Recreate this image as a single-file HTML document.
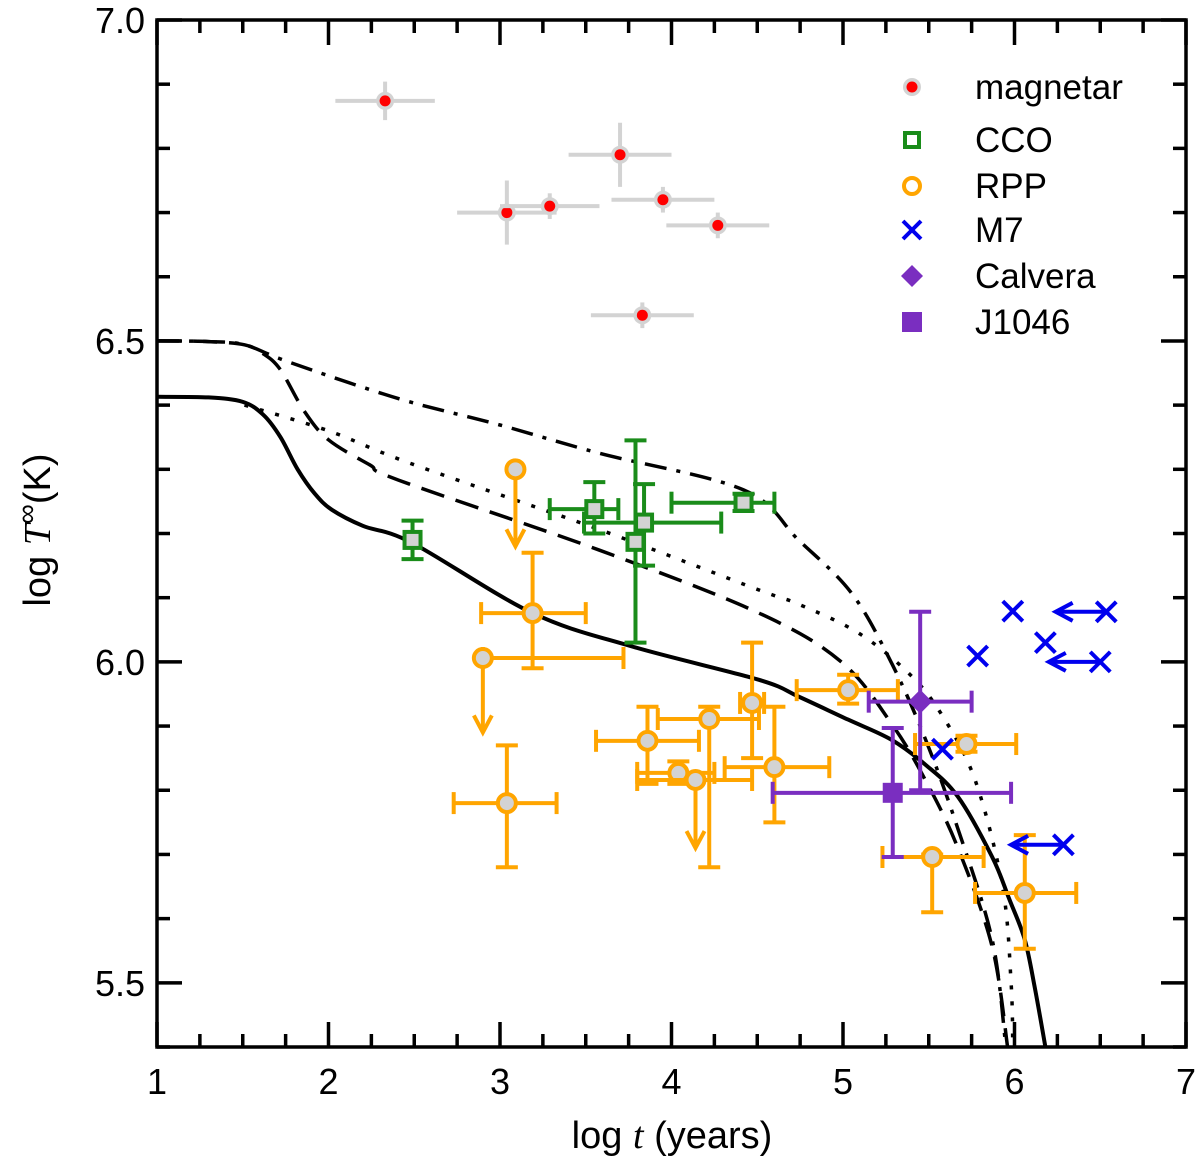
<!DOCTYPE html>
<html><head><meta charset="utf-8"><style>
body{margin:0;background:#fff;}
svg text{font-family:"Liberation Sans",sans-serif;}
</style></head><body>
<svg id="chart" width="1200" height="1168" xmlns="http://www.w3.org/2000/svg" style="position:absolute;left:0;top:0">
<g id="curves"></g>
<g id="marks"></g>
<g id="axes"></g>
<g id="legend"></g>
</svg>
<script>
// ---- data (log t, log T) ----
const magX=[2.33,3.04,3.29,3.70,3.95,4.27,3.83];
const magY=[6.874,6.70,6.71,6.79,6.72,6.68,6.54];
const magXe=[0.29,0.29,0.29,0.30,0.30,0.30,0.30];
const magYe=[0.03,0.05,0.02,0.05,0.02,0.02,0.02];

const ccoX=[2.49,3.55,3.84,3.79,4.42];
const ccoY=[6.19,6.238,6.217,6.187,6.248];
const ccoXlo=[2.49,3.29,3.49,3.79,4.00];
const ccoXhi=[2.49,3.69,4.29,3.79,4.60];
const ccoYlo=[6.16,6.20,6.15,6.03,6.235];
const ccoYhi=[6.22,6.28,6.277,6.345,6.262];

const rppX=[3.19,3.04,3.86,4.22,4.04,4.47,4.60,5.03,5.72,5.52,6.06];
const rppY=[6.076,5.78,5.877,5.911,5.827,5.936,5.836,5.956,5.872,5.696,5.64];
const rppXlo=[2.89,2.73,3.56,3.92,3.80,4.40,4.31,4.73,5.42,5.23,5.77];
const rppXhi=[3.50,3.33,4.16,4.51,4.25,4.54,4.92,5.32,6.01,5.82,6.36];
const rppYlo=[5.99,5.68,5.81,5.68,5.81,5.85,5.75,5.935,5.86,5.61,5.553];
const rppYhi=[6.17,5.87,5.93,5.93,5.845,6.03,5.93,5.98,5.885,5.70,5.73];
// upper limits
const rulX=[3.09,2.90,4.14];
const rulY=[6.30,6.006,5.816];
const rulYto=[6.18,5.89,5.71];
const rulXlo=[3.09,2.90,3.80];
const rulXhi=[3.09,3.72,4.47];

const m7X=[5.99,5.785,6.18,6.535,6.50,5.58,6.285];
const m7Y=[6.079,6.009,6.03,6.078,6.00,5.864,5.715];
const m7ArrowTo=[null,null,null,6.24,6.20,null,5.98];

const calX=[5.45], calY=[5.938], calXlo=[5.15], calXhi=[5.75], calYlo=[5.80], calYhi=[6.078];
const jX=[5.29], jY=[5.796], jXlo=[4.59], jXhi=[5.98], jYlo=[5.696], jYhi=[5.897];

const solidX=[1.0,1.3,1.5,1.62,1.72,1.82,1.92,2.02,2.2,2.49,3.19,3.77,4.51,4.74,5.03,5.28,5.48,5.67,5.87,5.97,6.06,6.12,6.18];
const solidY=[6.413,6.412,6.405,6.385,6.35,6.30,6.262,6.237,6.212,6.185,6.076,6.024,5.972,5.946,5.91,5.879,5.84,5.79,5.696,5.63,5.567,5.49,5.40];
const dashX=[1.0,1.3,1.51,1.62,1.72,1.86,2.0,2.24,2.41,3.58,4.51,4.99,5.28,5.48,5.67,5.87,5.96];
const dashY=[6.5,6.499,6.494,6.48,6.455,6.39,6.346,6.307,6.283,6.174,6.076,6.0,5.905,5.816,5.71,5.556,5.40];
const ddX=[1.0,1.3,1.51,1.77,2.41,3.0,3.58,4.42,4.74,5.05,5.28,5.48,5.67,5.87,5.95];
const ddY=[6.5,6.499,6.494,6.467,6.41,6.369,6.325,6.268,6.19,6.107,6.0,5.88,5.74,5.567,5.40];
const dotX=[1.51,2.0,2.47,3.58,4.51,4.74,5.09,5.38,5.57,5.77,5.93,5.98,5.99];
const dotY=[6.40,6.36,6.31,6.206,6.112,6.09,6.045,5.983,5.92,5.816,5.65,5.50,5.40];

const xTicks=[1,2,3,4,5,6,7];
const yTicks=[5.5,6.0,6.5,7.0];
const yTickLabels=["5.5","6.0","6.5","7.0"];

// ---- axes ----
const X0=157,X1=1186,Y0=1047,Y1=20,xmin=1,xmax=7,ymin=5.4,ymax=7.0;
const sx=v=>X0+(v-xmin)/(xmax-xmin)*(X1-X0);
const sy=v=>Y0-(v-ymin)/(ymax-ymin)*(Y0-Y1);
const NS="http://www.w3.org/2000/svg";
function mk(tag,attrs,parent){const e=document.createElementNS(NS,tag);for(const k in attrs)e.setAttribute(k,attrs[k]);parent.appendChild(e);return e;}
const G=id=>document.getElementById(id);
const ORANGE="#ffa500",GREEN="#1a8c1a",BLUE="#0000ee",PURPLE="#7a2ec0",GRAY="#d3d3d3";
const LW=4;

function smoothPath(xs,ys){
  const P=xs.map((x,i)=>[sx(x),sy(ys[i])]);
  let d='M'+P[0][0].toFixed(1)+','+P[0][1].toFixed(1);
  for(let i=0;i<P.length-1;i++){
    const p0=P[Math.max(0,i-1)],p1=P[i],p2=P[i+1],p3=P[Math.min(P.length-1,i+2)];
    const c1=[p1[0]+(p2[0]-p0[0])/6,p1[1]+(p2[1]-p0[1])/6];
    const c2=[p2[0]-(p3[0]-p1[0])/6,p2[1]-(p3[1]-p1[1])/6];
    d+=` C${c1[0].toFixed(1)},${c1[1].toFixed(1)} ${c2[0].toFixed(1)},${c2[1].toFixed(1)} ${p2[0].toFixed(1)},${p2[1].toFixed(1)}`;
  }
  return d;
}
function curve(xs,ys,dash,name,w){
  const p=mk('path',{d:smoothPath(xs,ys),fill:'none',stroke:'#000','stroke-width':w||3.5,'stroke-dasharray':dash,'stroke-linejoin':'round'},G('curves'));
  
  
}
curve(solidX,solidY,'none','curve-solid',4);
curve(dashX,dashY,'24 12','curve-dashed');
curve(ddX,ddY,'22 10 4 10','curve-dash-dot');
curve(dotX,dotY,'4 12','curve-dotted');

function line(x1,y1,x2,y2,c,w,p){return mk('line',{x1:x1,y1:y1,x2:x2,y2:y2,stroke:c,'stroke-width':w||LW},p);}
function errbar(cx,cy,xlo,xhi,ylo,yhi,c,cap,p){
  const H=11;
  if(xhi!==xlo){line(sx(xlo),cy,sx(xhi),cy,c,LW,p);if(cap){line(sx(xlo),cy-H,sx(xlo),cy+H,c,LW,p);line(sx(xhi),cy-H,sx(xhi),cy+H,c,LW,p);}}
  if(yhi!==ylo){line(cx,sy(ylo),cx,sy(yhi),c,LW,p);if(cap){line(cx-H,sy(ylo),cx+H,sy(ylo),c,LW,p);line(cx-H,sy(yhi),cx+H,sy(yhi),c,LW,p);}}
}
const M=G('marks');
magX.forEach((x,i)=>{
  const g=mk('g',{},M);
  
  
  const cx=sx(x),cy=sy(magY[i]);
  errbar(cx,cy,x-magXe[i],x+magXe[i],magY[i]-magYe[i],magY[i]+magYe[i],GRAY,false,g);
  mk('circle',{cx:cx,cy:cy,r:9,fill:GRAY},g);
  mk('circle',{cx:cx,cy:cy,r:5.5,fill:'#ff0000'},g);
});
ccoX.forEach((x,i)=>{
  const g=mk('g',{},M);
  
  
  const cx=sx(x),cy=sy(ccoY[i]);
  errbar(cx,cy,ccoXlo[i],ccoXhi[i],ccoYlo[i],ccoYhi[i],GREEN,true,g);
  mk('rect',{x:cx-8,y:cy-8,width:16,height:16,fill:GRAY,stroke:GREEN,'stroke-width':4},g);
});
rppX.forEach((x,i)=>{
  const g=mk('g',{},M);
  
  
  const cx=sx(x),cy=sy(rppY[i]);
  errbar(cx,cy,rppXlo[i],rppXhi[i],rppYlo[i],rppYhi[i],ORANGE,true,g);
  mk('circle',{cx:cx,cy:cy,r:9,fill:GRAY,stroke:ORANGE,'stroke-width':4},g);
});
rulX.forEach((x,i)=>{
  const g=mk('g',{},M);
  
  
  const cx=sx(x),cy=sy(rulY[i]),ty=sy(rulYto[i]);
  errbar(cx,cy,rulXlo[i],rulXhi[i],0,0,ORANGE,true,g);
  line(cx,cy,cx,ty,ORANGE,LW,g);
  mk('path',{d:`M${cx-9},${ty-17} L${cx},${ty} L${cx+9},${ty-17}`,fill:'none',stroke:ORANGE,'stroke-width':LW},g);
  mk('circle',{cx:cx,cy:cy,r:9,fill:GRAY,stroke:ORANGE,'stroke-width':4},g);
});
m7X.forEach((x,i)=>{
  const g=mk('g',{},M);
  
  
  const cx=sx(x),cy=sy(m7Y[i]);
  line(cx-10,cy-10,cx+10,cy+10,BLUE,LW,g);line(cx-10,cy+10,cx+10,cy-10,BLUE,LW,g);
  if(m7ArrowTo[i]!==null){const tx=sx(m7ArrowTo[i]);line(cx,cy,tx,cy,BLUE,LW,g);
    mk('path',{d:`M${tx+17},${cy-9} L${tx},${cy} L${tx+17},${cy+9}`,fill:'none',stroke:BLUE,'stroke-width':LW},g);}
});
calX.forEach((x,i)=>{
  const g=mk('g',{},M);
  
  
  const cx=sx(x),cy=sy(calY[i]);
  errbar(cx,cy,calXlo[i],calXhi[i],calYlo[i],calYhi[i],PURPLE,true,g);
  mk('path',{d:`M${cx},${cy-12} L${cx+12},${cy} L${cx},${cy+12} L${cx-12},${cy}Z`,fill:PURPLE},g);
});
jX.forEach((x,i)=>{
  const g=mk('g',{},M);
  
  
  const cx=sx(x),cy=sy(jY[i]);
  errbar(cx,cy,jXlo[i],jXhi[i],jYlo[i],jYhi[i],PURPLE,true,g);
  mk('rect',{x:cx-10,y:cy-10,width:20,height:20,fill:PURPLE},g);
});
const A=G('axes');
mk('rect',{x:X0,y:Y1,width:X1-X0,height:Y0-Y1,fill:'none',stroke:'#000','stroke-width':3.5},A);
for(let v=1;v<=7.001;v+=0.25){const major=Math.abs(v-Math.round(v))<1e-6,L=major?25:13;
  line(sx(v),Y0,sx(v),Y0-L,'#000',3.5,A);line(sx(v),Y1,sx(v),Y1+L,'#000',3.5,A);}
for(let k=0;k<=16;k++){const v=5.4+k*0.1;const major=Math.abs(v*2-Math.round(v*2))<1e-6,L=major?25:13;
  line(X0,sy(v),X0+L,sy(v),'#000',3.5,A);line(X1,sy(v),X1-L,sy(v),'#000',3.5,A);}
xTicks.forEach(v=>{const t=mk('text',{x:sx(v),y:1094,'text-anchor':'middle','font-size':36},A);t.textContent=v;
  });
yTicks.forEach((v,i)=>{const t=mk('text',{x:145,y:sy(v)+13,'text-anchor':'end','font-size':36},A);t.textContent=yTickLabels[i];
  });
const LG=G('legend');
const legRows=[["magnetar",87],["CCO",140],["RPP",186],["M7",230],["Calvera",276],["J1046",322]];
legRows.forEach(([n,y])=>{
  const g=mk('g',{},LG);
  
  
  const cx=912;
  if(n==="magnetar"){mk('circle',{cx:cx,cy:y,r:9,fill:GRAY},g);mk('circle',{cx:cx,cy:y,r:5.5,fill:'#f00'},g);}
  if(n==="CCO")mk('rect',{x:cx-7,y:y-7,width:14,height:14,fill:'none',stroke:GREEN,'stroke-width':4},g);
  if(n==="RPP")mk('circle',{cx:cx,cy:y,r:8,fill:'none',stroke:ORANGE,'stroke-width':4},g);
  if(n==="M7"){line(cx-9,y-9,cx+9,y+9,BLUE,LW,g);line(cx-9,y+9,cx+9,y-9,BLUE,LW,g);}
  if(n==="Calvera")mk('path',{d:`M${cx},${y-11} L${cx+11},${y} L${cx},${y+11} L${cx-11},${y}Z`,fill:PURPLE},g);
  if(n==="J1046")mk('rect',{x:cx-10,y:y-10,width:20,height:20,fill:PURPLE},g);
  const t=mk('text',{x:975,y:y+12,'font-size':35},g);t.textContent=n;
});
</script>
<svg style="position:absolute;left:0;top:0" width="1200" height="1168" xmlns="http://www.w3.org/2000/svg">
<text x="672" y="1148" text-anchor="middle" font-size="38" font-family="Liberation Sans, sans-serif">log <tspan font-family="Liberation Serif, serif" font-style="italic">t</tspan>  (years)</text>
<text transform="translate(50,530) rotate(-90)" text-anchor="middle" font-size="38" font-family="Liberation Sans, sans-serif">log <tspan font-family="Liberation Serif, serif" font-style="italic">T</tspan><tspan font-size="28" dy="-14">∞</tspan><tspan dy="14">(K)</tspan></text>
</svg>
</body></html>
